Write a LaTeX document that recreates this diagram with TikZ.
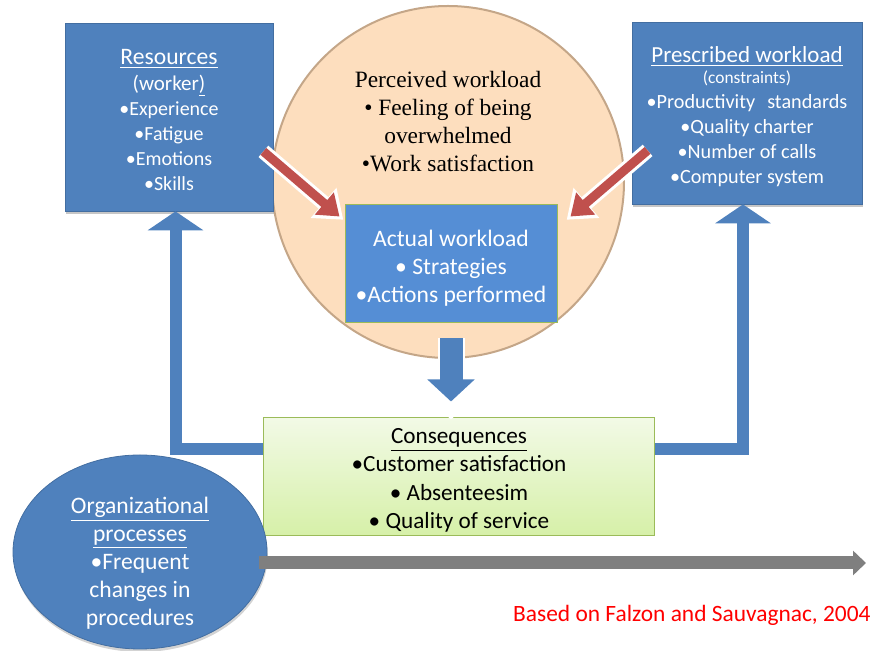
\documentclass[tikz,border=0pt]{standalone}
\usepackage{fontspec}
\setmainfont{Carlito}
\newfontfamily\timesfont{Liberation Serif}
\usetikzlibrary{positioning,arrows.meta,shadows,shapes.geometric}

\definecolor{boxblue}{RGB}{79,129,189}
\definecolor{actblue}{RGB}{85,142,213}
\definecolor{peach}{RGB}{253,222,190}
\definecolor{peachedge}{RGB}{196,166,136}
\definecolor{arrowred}{RGB}{192,80,77}
\definecolor{consedge}{RGB}{155,187,89}
\definecolor{constop}{RGB}{242,250,230}
\definecolor{consbottom}{RGB}{214,240,168}
\definecolor{timegray}{RGB}{127,127,127}

\newcommand{\fsz}[2]{\fontsize{#1}{#2}\selectfont}
\newcommand{\topgap}[1]{\rule{0pt}{#1}}

\begin{document}
\begin{tikzpicture}[
		x=0.5pt, y=-0.5pt
		,box/.style={draw=boxblue!85!black, line width=.4pt, fill=boxblue, text=white,
			align=center, inner sep=0pt, drop shadow={shadow xshift=.4pt, shadow yshift=-1.5pt, opacity=.45}}
		,redarrow/.style={draw=arrowred, line width=4.5pt, -{Triangle[width=14pt,length=10pt]},
			preaction={draw=white, line width=7.5pt, -{Triangle[width=19pt,length=13pt]}, shorten >=-2.5pt}}
		,bluearrow/.style={draw=boxblue, line width=6pt, line join=miter, -{Triangle[width=27.5pt,length=9.5pt]}}
		,downarrow/.style={draw=boxblue, line width=11.5pt, -{Triangle[width=23pt,length=11pt]},
			preaction={draw=white, line width=13.5pt, -{Triangle[width=26pt,length=12.5pt]}, shorten >=-1pt}}
		,timearrow/.style={draw=timegray, line width=6.5pt, -{Triangle[width=12pt,length=6.5pt]}}
	]
		\useasboundingbox (0,0) rectangle (875,651);

		% perceived workload
		\node[circle, fill=peach, draw=peachedge, line width=1pt, minimum size=176pt, inner sep=0pt] (wl) at (448,182) {};
		\node[align=center, inner sep=0pt, font=\timesfont\fsz{11.7}{14}] (perc) at (448,122)
			{Perceived workload\\ \textbullet\ Feeling of being\\ overwhelmed\\ \textbullet Work satisfaction};

		% side boxes
		\node[box, minimum width=104pt, minimum height=94pt, font=\fsz{10}{12.6}] (res) at (169,117)
			{\topgap{11pt}{\fsz{11.8}{12.6}\underline{Resources}}\\ {\fsz{10.5}{12.6}(worker\underline{)}}\\ \textbullet Experience\\ \textbullet Fatigue\\ \textbullet Emotions\\ \textbullet Skills};
		\node[box, minimum width=115pt, minimum height=91pt, font=\fsz{10.1}{12.5}] (pre) at (747,113)
			{\topgap{12pt}{\fsz{11.5}{12.5}\underline{Prescribed workload}}\\[-2pt] {\fsz{8.7}{12.5}(constraints)}\\ \textbullet Productivity\hspace{0.6em}standards\\ \textbullet Quality charter\\ \textbullet Number of calls\\ \textbullet Computer system};

		% actual workload
		\node[draw=consedge, line width=.5pt, fill=actblue, text=white, align=center, inner sep=0pt,
			minimum width=106pt, minimum height=59pt, font=\fsz{11.8}{14}] (act) at (451,264)
			{\topgap{12pt}Actual workload\\ \textbullet\ Strategies\\ \textbullet Actions performed};

		\draw[redarrow] ([xshift=-5pt,yshift=30pt]res.south east) -- ([xshift=-2.5pt,yshift=-6pt]act.north west);
		\draw[redarrow] ([xshift=8pt,yshift=27pt]pre.south west) -- ([xshift=6.5pt,yshift=-6pt]act.north east);

		% consequences
		\node[draw=consedge, line width=.5pt, top color=constop, bottom color=consbottom, align=center, inner sep=0pt,
			minimum width=195.5pt, minimum height=59pt, font=\fsz{11.6}{14.2}] (cons) at (459,477)
			{\topgap{11pt}\underline{Consequences}\\ \textbullet Customer satisfaction\\ \textbullet\ Absenteesim\\ \textbullet\ Quality of service};

		\draw[downarrow, shorten <=7.5pt, shorten >=8pt] (act.south) -- (act.south |- cons.north);
		\draw[bluearrow] ([yshift=14pt]cons.west) -| ([xshift=3.25pt]res.south);
		\draw[bluearrow] ([yshift=14pt]cons.east) -| ([xshift=-2pt]pre.south);

		% organizational processes
		\node[ellipse, fill=boxblue, draw=boxblue!85!black, line width=.4pt, minimum width=127pt, minimum height=97pt,
			inner sep=0pt, drop shadow={shadow xshift=.4pt, shadow yshift=-1.5pt, opacity=.35}] (org) at (140,552) {};
		\node[align=center, text=white, inner sep=0pt, font=\fsz{11.8}{14}] (orgtext) at ([yshift=-5.5pt]org.center)
			{\underline{Organizational}\\ \underline{processes}\\ \textbullet Frequent\\ changes in\\ procedures};

		\coordinate (timeend) at (866,563);
		\draw[timearrow, shorten <=-4pt] (org.east |- timeend) -- (timeend);

		\node[anchor=base east, text=red, inner sep=0pt, font=\fsz{11.7}{13}] (src) at (871,622)
			{Based on Falzon and Sauvagnac, 2004};
	\end{tikzpicture}
\end{document}
